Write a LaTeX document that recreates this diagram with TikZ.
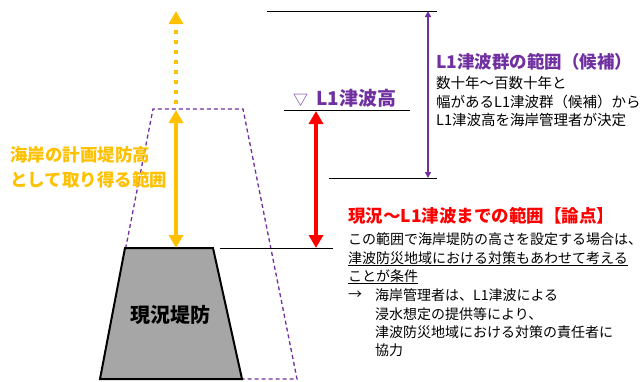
\documentclass[tikz,border=0pt]{standalone}
\usepackage{fontspec}
\setmainfont{Noto Sans CJK JP}
\usetikzlibrary{arrows.meta}
\definecolor{orng}{HTML}{FFC000}
\definecolor{purp}{HTML}{7030A0}
\definecolor{redc}{HTML}{FF0000}
\definecolor{dikegray}{HTML}{A6A6A6}
\tikzset{
  txt/.style={anchor=west,inner sep=0pt,font=\fontsize{14}{16}\selectfont},
  rtxt/.style={anchor=west,inner sep=0pt,font=\fontsize{14.5}{17}\selectfont},
  head/.style={anchor=west,inner sep=0pt,font=\bfseries\fontsize{17.5}{20}\selectfont},
  level/.style={line width=1pt,black},
  bigarrow/.style={line width=4pt,{Triangle[width=14pt,length=13pt]}-{Triangle[width=14pt,length=13pt]}},
}
\begin{document}
\begin{tikzpicture}[x=1pt,y=-1pt]
\useasboundingbox (0,0) rectangle (644,381);
% coordinates
\coordinate (dTL) at (125,248);
\coordinate (dTR) at (213,248);
\coordinate (dBR) at (242,379);
\coordinate (dBL) at (100,379);
\coordinate (pTL) at (153,109);
\coordinate (pTR) at (243,109);
\coordinate (pBR) at (297,379);
% planned dike outline (dashed)
\draw[purp,line width=1.3pt,dash pattern=on 4pt off 3pt] (dBL) -- (pTL) -- (pTR) -- (pBR) -- (dBR);
% existing dike
\draw[line width=2pt,fill=dikegray,line join=miter] (dTL) -- (dTR) -- (dBR) -- (dBL) -- cycle;
\node[anchor=center,inner sep=0pt,font=\bfseries\fontsize{20}{22}\selectfont] (dike) at (170,315) {現況堤防};
% level lines
\coordinate (topL) at (267,11);  \coordinate (topR) at (437,11);
\coordinate (l1L) at (284,110);  \coordinate (l1R) at (410,110);
\coordinate (botL) at (329,178); \coordinate (botR) at (437,178);
\coordinate (curL) at (220,248); \coordinate (curR) at (333,248);
\draw[level] (topL) -- (topR);
\draw[level] (l1L) -- (l1R);
\draw[level] (botL) -- (botR);
\draw[level] (curL) -- (curR);
% orange arrows
\coordinate (oA) at (176,110);
\coordinate (oB) at (176,248);
\coordinate (oC) at (176,104);
\coordinate (oD) at (176,11);
\draw[orng,bigarrow] (oA) -- (oB);
\draw[orng,line width=4pt,dash pattern=on 4pt off 6pt,-{Triangle[width=14pt,length=13pt]}] (oC) -- (oD);
% red arrow
\coordinate (rA) at (316,111);
\coordinate (rB) at (316,248);
\draw[redc,bigarrow] (rA) -- (rB);
% purple arrow
\coordinate (uA) at (428,11);
\coordinate (uB) at (428,178);
\draw[purp,line width=1.5pt,{Triangle[width=6pt,length=6pt]}-{Triangle[width=6pt,length=6pt]}] (uA) -- (uB);
% texts
\node[head,orng] (o1) at (10,155) {海岸の計画堤防高};
\node[head,orng] (o2) at (10,180) {として取り得る範囲};
\node[head,purp,font=\bfseries\fontsize{19}{21}\selectfont] (l1) at (293,98) {{\mdseries\fontsize{15}{17}\selectfont ▽}\hspace{8pt}L1津波高};
\node[head,purp] (ph) at (436,62) {L1津波群の範囲（候補）};
\node[rtxt] (r1) at (436,83) {数十年～百数十年と};
\node[rtxt] (r2) at (436,102) {幅があるL1津波群（候補）から};
\node[rtxt] (r3) at (436,120) {L1津波高を海岸管理者が決定};
\node[head,redc] (rh) at (348,216) {現況～L1津波までの範囲【論点】};
\node[txt] (t1) at (348,239) {この範囲で海岸堤防の高さを設定する場合は、};
\node[txt] (t2) at (348,258) {津波防災地域における対策もあわせて考える};
\node[txt] (t3) at (348,276) {ことが条件};
\draw[line width=0.8pt] ([yshift=-1.8pt]t2.base west) -- ([yshift=-1.8pt]t2.base east);
\draw[line width=0.8pt] ([yshift=-1.8pt]t3.base west) -- ([yshift=-1.8pt]t3.base east);
\node[txt] (ar) at (348,295) {→};
\node[txt] (t4) at (375,295) {海岸管理者は、L1津波による};
\node[txt] (t5) at (375,314) {浸水想定の提供等により、};
\node[txt] (t6) at (375,332) {津波防災地域における対策の責任者に};
\node[txt] (t7) at (375,350) {協力};
\end{tikzpicture}
\end{document}
